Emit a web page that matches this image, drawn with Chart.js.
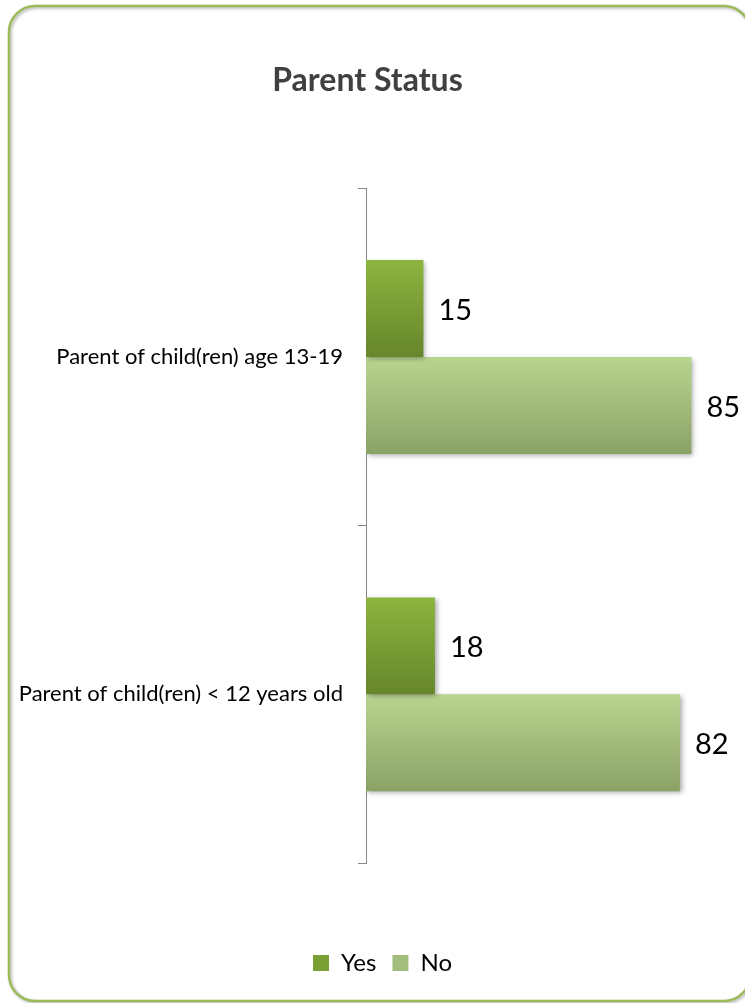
<!DOCTYPE html>
<html>
<head>
<meta charset="utf-8">
<script src="https://cdn.jsdelivr.net/npm/chart.js@4/dist/chart.umd.min.js"></script>
<style>
  html, body { margin: 0; padding: 0; background: #ffffff; }
  #wrap { width: 745px; height: 1003px; }
</style>
</head>
<body>
<div id="wrap"><canvas id="c" width="745" height="1003"></canvas></div>
<script>
const chartTitle = 'Parent Status';
const categories = ['Parent of child(ren) age 13-19', 'Parent of child(ren) < 12 years old'];
const seriesNames = ['Yes', 'No'];
const yesValues = [15, 18];
const noValues = [85, 82];

const FONT = 'Lato, "Open Sans", "Noto Sans", sans-serif';
const CAT_PCT = 0.575;

function barGradient(topColor, bottomColor) {
  return function (c) {
    const chart = c.chart;
    const y = chart.scales && chart.scales.y;
    if (!y || c.dataIndex == null || !chart.chartArea) return topColor;
    const n = chart.data.labels.length;
    const dsCount = chart.data.datasets.length;
    const cat = (y.height / n) * CAT_PCT;
    const thick = cat / dsCount;
    const center = y.getPixelForValue(c.dataIndex);
    const y0 = center - cat / 2 + c.datasetIndex * thick;
    const g = chart.ctx.createLinearGradient(0, y0, 0, y0 + thick);
    g.addColorStop(0, topColor);
    g.addColorStop(1, bottomColor);
    return g;
  };
}

const framePlugin = {
  id: 'frame',
  beforeDraw(chart) {
    const ctx = chart.ctx;
    ctx.save();
    ctx.fillStyle = '#ffffff';
    ctx.fillRect(0, 0, chart.width, chart.height);
    const x = 9, y = 6, w = 741, h = 995, r = 26;
    ctx.beginPath();
    ctx.moveTo(x + r, y);
    ctx.lineTo(x + w - r, y);
    ctx.arcTo(x + w, y, x + w, y + r, r);
    ctx.lineTo(x + w, y + h - r);
    ctx.arcTo(x + w, y + h, x + w - r, y + h, r);
    ctx.lineTo(x + r, y + h);
    ctx.arcTo(x, y + h, x, y + h - r, r);
    ctx.lineTo(x, y + r);
    ctx.arcTo(x, y, x + r, y, r);
    ctx.closePath();
    ctx.shadowColor = 'rgba(0,0,0,0.3)';
    ctx.shadowBlur = 3;
    ctx.shadowOffsetX = 1.5;
    ctx.shadowOffsetY = 1.5;
    ctx.strokeStyle = '#9BBB59';
    ctx.lineWidth = 2.5;
    ctx.stroke();
    ctx.restore();
  }
};

// nudge title and legend horizontally to match the reference centring
const nudgePlugin = {
  id: 'nudge',
  afterLayout(chart) {
    if (chart.titleBlock) { chart.titleBlock.left -= 5; chart.titleBlock.right -= 5; }
    if (chart.legend) { chart.legend.left += 10; chart.legend.right += 10; }
  }
};

const shadowPlugin = {
  id: 'barShadow',
  beforeDatasetsDraw(chart) {
    const ctx = chart.ctx;
    ctx.save();
    ctx.shadowColor = 'rgba(0,0,0,0.35)';
    ctx.shadowBlur = 5;
    ctx.shadowOffsetX = 2;
    ctx.shadowOffsetY = 2;
  },
  afterDatasetsDraw(chart) {
    chart.ctx.restore();
  }
};

const valueLabelPlugin = {
  id: 'valueLabels',
  afterDatasetsDraw(chart) {
    const ctx = chart.ctx;
    ctx.save();
    ctx.font = '29px ' + FONT;
    ctx.fillStyle = '#000000';
    ctx.textAlign = 'left';
    ctx.textBaseline = 'middle';
    chart.data.datasets.forEach((ds, di) => {
      const meta = chart.getDatasetMeta(di);
      meta.data.forEach((bar, i) => {
        ctx.fillText(String(ds.data[i]), bar.x + 15, bar.y + 2);
      });
    });
    ctx.restore();
  }
};

new Chart(document.getElementById('c'), {
  type: 'bar',
  data: {
    labels: categories,
    datasets: [
      {
        label: seriesNames[0],
        data: yesValues,
        backgroundColor: barGradient('#8DB43F', '#66862B'),
        borderWidth: 0,
        categoryPercentage: CAT_PCT,
        barPercentage: 1.0
      },
      {
        label: seriesNames[1],
        data: noValues,
        backgroundColor: barGradient('#B9D48F', '#8BA267'),
        borderWidth: 0,
        categoryPercentage: CAT_PCT,
        barPercentage: 1.0
      }
    ]
  },
  options: {
    indexAxis: 'y',
    responsive: false,
    animation: false,
    events: [],
    layout: { padding: { left: 0, right: 0, top: 0, bottom: 18 } },
    scales: {
      x: {
        display: true,
        min: 0,
        max: 99,
        grid: { display: false, drawTicks: false },
        border: { display: false },
        ticks: { display: false },
        afterFit(s) { s.height = 72; }
      },
      y: {
        grid: {
          display: true,
          drawOnChartArea: false,
          drawTicks: true,
          tickLength: 8,
          color: '#868686',
          lineWidth: 1,
          offset: true
        },
        border: { display: true, color: '#868686', width: 1 },
        ticks: {
          color: '#000000',
          font: { family: FONT, size: 22 },
          padding: 15
        },
        afterFit(s) { s.width = 366; }
      }
    },
    plugins: {
      title: {
        display: true,
        text: chartTitle,
        color: '#404040',
        font: { family: FONT, size: 32, weight: 'bold', lineHeight: 1.2 },
        padding: { top: 61, bottom: 89 }
      },
      legend: {
        display: true,
        position: 'bottom',
        labels: {
          color: '#000000',
          font: { family: FONT, size: 24 },
          boxWidth: 16,
          boxHeight: 16,
          padding: 16,
          generateLabels() {
            return [
              { text: seriesNames[0], fillStyle: '#7AA035', strokeStyle: 'rgba(0,0,0,0)', lineWidth: 0, hidden: false, datasetIndex: 0, fontColor: '#000000' },
              { text: seriesNames[1], fillStyle: '#A3BE7C', strokeStyle: 'rgba(0,0,0,0)', lineWidth: 0, hidden: false, datasetIndex: 1, fontColor: '#000000' }
            ];
          }
        }
      },
      tooltip: { enabled: false }
    }
  },
  plugins: [framePlugin, nudgePlugin, shadowPlugin, valueLabelPlugin]
});
</script>
</body>
</html>
